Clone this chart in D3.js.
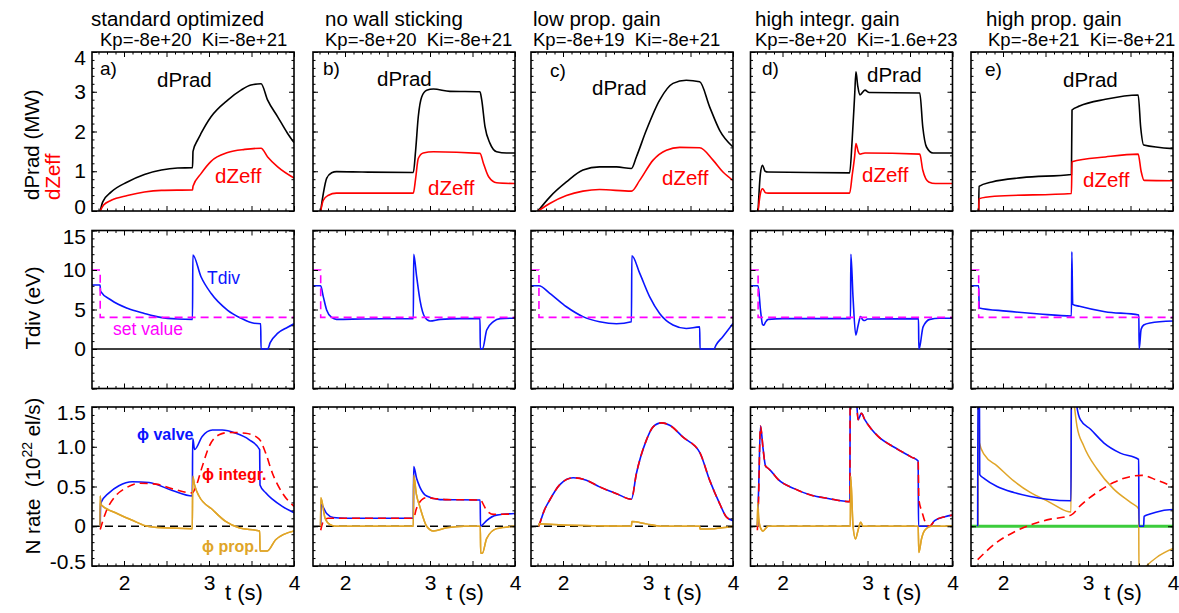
<!DOCTYPE html>
<html><head><meta charset="utf-8">
<script src="https://cdn.jsdelivr.net/npm/d3@7"></script>
<style>
body{margin:0;background:#fff;}
svg text{font-family:"Liberation Sans",Arial,Helvetica,sans-serif;}
</style></head><body>
<svg id="chart" width="1179" height="613"></svg>
<script>
// ---------------- data ----------------
const titles = ["standard optimized","no wall sticking","low prop. gain","high integr. gain","high prop. gain"];
const gainLabels = ["Kp=-8e+20  Ki=-8e+21","Kp=-8e+20  Ki=-8e+21","Kp=-8e+19  Ki=-8e+21","Kp=-8e+20  Ki=-1.6e+23","Kp=-8e+21  Ki=-8e+21"];
const panelLetters = ["a)","b)","c)","d)","e)"];
const xTicksMajor = [2,2.5,3,3.5,4];
const xTickLabels = [2,3,4];
const yTicksPrad = [0,1,2,3,4];
const yTicksTdiv = [-5,0,5,10,15];
const yLabelsTdiv = [0,5,10,15];
const yTicksRate = [-0.5,0,0.5,1.0,1.5];

// row 1: dPrad (MW) and dZeff, [t (s), value]
const pradA = [[1.72,0],[1.75,0.23],[1.85,0.48],[2.04,0.73],[2.24,0.92],[2.44,1.03],[2.63,1.08],[2.806,1.09],[2.812,1.5],[2.87,1.8],[2.906,1.95],[3.024,2.37],[3.22,2.79],[3.376,3.04],[3.494,3.17],[3.612,3.2],[3.69,2.79],[3.808,2.37],[3.925,1.95],[4.0,1.72]];
const zeffA = [[1.72,0],[1.76,0.15],[1.85,0.27],[2.04,0.39],[2.24,0.48],[2.44,0.52],[2.806,0.53],[2.812,0.62],[2.906,0.94],[3.024,1.25],[3.22,1.47],[3.42,1.55],[3.612,1.58],[3.69,1.36],[3.808,1.11],[4.0,0.83]];
const pradB = [[1.714,0],[1.745,0.44],[1.784,0.82],[1.843,0.96],[1.9,0.99],[2.2,0.98],[2.804,0.97],[2.83,1.5],[2.862,2.37],[2.902,2.87],[2.961,3.04],[3.04,3.07],[3.235,3.01],[3.588,3.0],[3.608,2.8],[3.647,2.12],[3.706,1.7],[3.784,1.49],[3.9,1.46],[4.0,1.46]];
const zeffB = [[1.714,0],[1.745,0.27],[1.8,0.39],[1.9,0.45],[2.804,0.45],[2.83,0.8],[2.862,1.32],[2.92,1.46],[3.04,1.49],[3.588,1.45],[3.63,1.19],[3.69,0.86],[3.784,0.71],[4.0,0.69]];
const pradC = [[1.706,0],[1.844,0.35],[2.04,0.73],[2.235,1.03],[2.43,1.11],[2.63,1.11],[2.805,1.07],[2.863,1.36],[2.98,2.03],[3.137,2.79],[3.294,3.21],[3.45,3.29],[3.608,3.25],[3.725,2.62],[3.843,2.03],[4.0,1.61]];
const zeffC = [[1.706,0],[1.844,0.19],[2.04,0.39],[2.235,0.5],[2.43,0.54],[2.805,0.5],[2.902,0.77],[3.06,1.28],[3.216,1.53],[3.373,1.6],[3.608,1.59],[3.765,1.28],[3.882,0.98],[4.0,0.77]];
const pradD = [[1.713,0],[1.74,0.94],[1.765,1.15],[1.795,1.0],[1.83,0.98],[2.79,0.96],[2.82,1.8],[2.85,2.96],[2.864,3.5],[2.885,3.15],[2.91,2.92],[2.97,3.04],[3.02,2.98],[3.615,2.97],[3.65,2.12],[3.694,1.61],[3.77,1.46],[4.0,1.46]];
const zeffD = [[1.713,0],[1.74,0.44],[1.765,0.56],[1.8,0.46],[1.83,0.45],[2.79,0.45],[2.82,0.9],[2.85,1.4],[2.864,1.7],[2.89,1.5],[2.91,1.43],[2.97,1.46],[3.615,1.43],[3.65,1.03],[3.72,0.73],[3.8,0.69],[4.0,0.69]];
const pradE = [[1.714,0],[1.718,0.62],[1.87,0.73],[2.224,0.84],[2.805,0.92],[2.812,2.54],[2.9,2.64],[3.205,2.81],[3.59,2.92],[3.62,2.1],[3.655,1.66],[4.0,1.57]];
const zeffE = [[1.714,0],[1.718,0.31],[1.9,0.37],[2.805,0.44],[2.812,1.24],[3.205,1.36],[3.59,1.43],[3.625,1.0],[3.66,0.77],[4.0,0.76]];

// row 2: Tdiv (eV)
const tdivA = [[1.62,8.1],[1.718,8.1],[1.725,7.3],[1.847,6.2],[2.04,5.15],[2.24,4.5],[2.43,4.0],[2.63,3.8],[2.806,3.75],[2.81,11.9],[2.906,9.15],[3.024,7.05],[3.22,4.9],[3.376,3.9],[3.53,3.25],[3.608,3.2],[3.612,0],[3.69,0],[3.72,0.8],[3.81,2.0],[3.925,2.75],[4.0,3.2]];
const tdivB = [[1.62,8.0],[1.714,8.0],[1.745,6.6],[1.784,4.94],[1.843,4.0],[1.9,3.75],[2.2,3.8],[2.804,3.85],[2.808,12.0],[2.843,9.15],[2.882,6.2],[2.941,4.0],[3.0,3.54],[3.12,3.75],[3.35,3.85],[3.588,3.85],[3.592,0],[3.62,0.05],[3.667,2.4],[3.745,3.46],[3.824,3.85],[4.0,3.9]];
const tdivC = [[1.62,8],[1.717,8],[1.844,7.05],[2.04,5.35],[2.235,4.1],[2.43,3.46],[2.63,3.2],[2.805,3.46],[2.81,11.8],[2.902,9.6],[3.02,6.6],[3.137,4.5],[3.294,3.04],[3.45,2.6],[3.608,2.8],[3.612,0],[3.776,0],[3.8,0.5],[3.88,1.56],[4.0,3.25]];
const tdivD = [[1.62,8],[1.713,8],[1.741,4.94],[1.765,3.1],[1.78,3.0],[1.8,3.4],[1.831,3.75],[2.0,3.85],[2.8,3.85],[2.804,12.0],[2.83,6.5],[2.862,1.77],[2.89,3.0],[2.918,4.1],[2.945,3.7],[2.968,3.6],[3.0,3.8],[3.6,3.85],[3.604,0],[3.615,0.3],[3.654,2.8],[3.733,3.75],[3.85,3.9],[4.0,3.9]];
const tdivE = [[1.62,8],[1.714,8],[1.72,5.2],[2.04,4.8],[2.43,4.43],[2.805,4.18],[2.81,12.3],[2.82,5.65],[2.9,5.4],[3.2,4.72],[3.598,4.3],[3.602,0],[3.625,2.5],[3.655,3.04],[3.73,3.3],[4.0,3.54]];
const setHigh = 10, setLow = 4;
const setStepT = [1.72,1.714,1.717,1.713,1.714];

// row 3: N rate (1e22 el/s): valve, integral part, proportional part
const valveA = [[1.72,0],[1.726,0.29],[1.824,0.42],[1.94,0.51],[2.098,0.56],[2.294,0.55],[2.568,0.45],[2.804,0.38],[2.808,1.1],[2.814,1.08],[2.83,0.965],[2.92,1.13],[3.04,1.21],[3.156,1.21],[3.314,1.17],[3.47,1.09],[3.596,0.965],[3.6,0.52],[3.667,0.42],[3.745,0.34],[3.862,0.25],[4.0,0.17]];
const integrA = [[1.72,-0.04],[1.784,0.17],[1.9,0.38],[2.02,0.48],[2.176,0.54],[2.373,0.53],[2.57,0.47],[2.804,0.42],[2.843,0.49],[2.92,0.75],[3.0,1.0],[3.118,1.15],[3.235,1.18],[3.43,1.17],[3.588,1.1],[3.667,0.92],[3.745,0.67],[3.862,0.42],[4.0,0.25]];
const propA = [[1.718,0],[1.72,0.38],[1.73,0.27],[1.9,0.17],[2.098,0.075],[2.255,0.005],[2.45,-0.02],[2.804,-0.03],[2.808,0.63],[2.83,0.52],[2.882,0.38],[3.04,0.21],[3.196,0.06],[3.353,-0.02],[3.596,-0.06],[3.6,-0.31],[3.686,-0.31],[3.784,-0.17],[4.0,-0.06]];
const valveB = [[1.714,0],[1.72,0.27],[1.784,0.16],[1.863,0.11],[2.0,0.1],[2.804,0.1],[2.808,0.75],[2.843,0.6],[2.882,0.49],[2.961,0.38],[3.118,0.335],[3.59,0.33],[3.594,0],[3.62,0.02],[3.666,0.07],[3.784,0.14],[4.0,0.16]];
const integrB = [[1.714,-0.05],[1.745,0.06],[1.8,0.1],[2.804,0.1],[2.84,0.22],[2.9,0.33],[2.96,0.36],[3.05,0.35],[3.2,0.335],[3.594,0.33],[3.63,0.27],[3.666,0.2],[3.75,0.15],[4.0,0.155]];
const propB = [[1.712,0],[1.716,0.36],[1.766,0.1],[1.825,0.02],[1.9,0],[2.804,0],[2.808,0.64],[2.84,0.4],[2.882,0.24],[2.961,0.0],[3.04,-0.06],[3.196,-0.02],[3.4,0],[3.592,0],[3.596,-0.34],[3.616,-0.34],[3.666,-0.155],[3.784,-0.03],[4.0,0]];
const valveC = [[1.717,0],[1.78,0.2],[1.844,0.33],[1.96,0.52],[2.118,0.61],[2.275,0.58],[2.43,0.495],[2.63,0.41],[2.805,0.34],[2.863,0.66],[2.98,1.08],[3.06,1.25],[3.157,1.3],[3.255,1.27],[3.412,1.12],[3.608,0.93],[3.725,0.58],[3.843,0.285],[3.92,0.12],[4.0,0.07]];
const integrC = [[1.717,0],[1.78,0.2],[1.844,0.33],[1.96,0.52],[2.118,0.61],[2.275,0.58],[2.43,0.495],[2.63,0.41],[2.805,0.34],[2.863,0.66],[2.98,1.08],[3.06,1.25],[3.157,1.3],[3.255,1.27],[3.412,1.12],[3.608,0.93],[3.725,0.58],[3.843,0.285],[3.92,0.12],[4.0,0.07]];
const propC = [[1.715,0],[1.717,0.03],[2.0,0.015],[2.4,0.005],[2.805,0],[2.81,0.06],[2.98,0.03],[3.15,0],[3.608,0],[3.612,-0.035],[3.78,-0.03],[4.0,0]];
const valveD = [[1.706,0],[1.72,0.5],[1.741,1.26],[1.772,0.97],[1.8,0.76],[1.83,0.73],[1.86,0.7],[1.948,0.59],[2.145,0.47],[2.34,0.39],[2.536,0.35],[2.792,0.31],[2.797,1.8],[2.86,1.75],[2.889,1.34],[2.929,1.42],[2.968,1.34],[3.047,1.22],[3.125,1.13],[3.32,0.99],[3.517,0.87],[3.596,0.82],[3.6,0],[3.733,0],[3.79,0.07],[3.91,0.12],[4.0,0.14]];
const integrD = [[1.704,-0.05],[1.715,0.2],[1.741,1.26],[1.772,0.97],[1.8,0.76],[1.83,0.73],[1.86,0.7],[1.948,0.59],[2.145,0.47],[2.34,0.39],[2.536,0.35],[2.792,0.31],[2.797,1.8],[2.86,1.75],[2.889,1.34],[2.929,1.42],[2.968,1.34],[3.047,1.22],[3.125,1.13],[3.32,0.99],[3.517,0.87],[3.596,0.82],[3.604,0.34],[3.643,0.175],[3.68,0.05],[3.73,0.0],[3.79,0.07],[3.91,0.12],[4.0,0.14]];
const propD = [[1.704,0],[1.708,0.3],[1.72,0.1],[1.741,-0.02],[1.772,-0.06],[1.8,-0.03],[1.83,0],[2.798,0],[2.802,0.63],[2.83,0.0],[2.859,-0.16],[2.889,-0.05],[2.92,0.05],[2.948,0],[3.596,0],[3.604,-0.33],[3.635,-0.16],[3.674,-0.05],[3.753,0],[4.0,0]];
const valveE = [[1.702,0],[1.705,1.8],[1.722,1.8],[1.726,0.65],[1.78,0.6],[1.93,0.5],[2.126,0.425],[2.32,0.375],[2.518,0.34],[2.8,0.32],[2.804,1.8],[2.84,1.8],[2.87,1.5],[2.91,1.34],[3.03,1.22],[3.185,1.05],[3.38,0.92],[3.596,0.84],[3.6,0],[3.655,0],[3.66,0.125],[3.72,0.15],[3.87,0.195],[4.0,0.21]];
const integrE = [[1.702,-0.42],[1.93,-0.2],[2.126,-0.075],[2.32,0.016],[2.518,0.08],[2.8,0.14],[2.91,0.26],[3.106,0.425],[3.3,0.55],[3.5,0.625],[3.635,0.64],[3.81,0.58],[4.0,0.5]];
const propE = [[1.706,0],[1.709,1.8],[1.718,1.8],[1.722,1.05],[1.78,0.9],[1.93,0.76],[2.126,0.57],[2.32,0.425],[2.518,0.32],[2.8,0.18],[2.806,1.8],[2.83,1.6],[2.87,1.26],[2.95,1.01],[3.106,0.72],[3.3,0.47],[3.5,0.3],[3.596,0.22],[3.6,-0.6],[3.687,-0.5],[3.81,-0.39],[4.0,-0.28]];

// ---------------- layout ----------------
const colLeft = [92, 313, 531, 750.5, 971];
const panelW = 202;
const rowTop = [52, 230.5, 407];
const rowH = [159, 158, 159];
const xMin = 4 - panelW / 85, xMax = 4;
const titleX = [91, 325, 533, 755, 986];
const gainX = [100, 325, 533, 755, 988];
const letterPos = [[100,75],[323,75],[550,77],[762,75],[985,76]];
const pradPos = [[157,87],[377,86],[592,95],[867,82],[1063,87]];
const zeffPos = [[215,183],[428,195],[662,185],[862,182],[1083,187]];

const C = {black:"#000", red:"#ff0000", blue:"#0a14ff", magenta:"#ff00ff", orange:"#e0a528", green:"#3ccc3c"};

const panels = [
  {prad:pradA, zeff:zeffA, tdiv:tdivA, valve:valveA, integr:integrA, prop:propA},
  {prad:pradB, zeff:zeffB, tdiv:tdivB, valve:valveB, integr:integrB, prop:propB},
  {prad:pradC, zeff:zeffC, tdiv:tdivC, valve:valveC, integr:integrC, prop:propC},
  {prad:pradD, zeff:zeffD, tdiv:tdivD, valve:valveD, integr:integrD, prop:propD},
  {prad:pradE, zeff:zeffE, tdiv:tdivE, valve:valveE, integr:integrE, prop:propE}
];

const svg = d3.select("#chart");
const defs = svg.append("defs");

function range(a, b, s) { const out = []; for (let v = a; v <= b + 1e-9; v += s) out.push(+v.toFixed(4)); return out; }
const xMinor = range(1.7, 3.9, 0.1).filter(v => Math.abs(v*2 - Math.round(v*2)) > 1e-6);

function styleAxis(g) {
  g.select(".domain").remove();
  g.selectAll(".tick line").attr("stroke", "#000").attr("stroke-width", 1);
  g.selectAll(".tick text").attr("fill", "#000").style("font-size", "21px")
    .style("font-family", '"Liberation Sans",Arial,Helvetica,sans-serif');
  g.attr("font-size", null).attr("font-family", null);
}

function drawFrame(c, r, x, y, yMajor, yMinor, yFmt, showX) {
  const top = rowTop[r], bot = top + rowH[r], left = colLeft[c], right = left + panelW;
  const g = svg.append("g");
  g.append("g").attr("transform", `translate(0,${bot})`)
    .call(d3.axisBottom(x).tickValues(xMinor).tickSize(-2.5).tickFormat("")).call(styleAxis);
  g.append("g").attr("transform", `translate(0,${top})`)
    .call(d3.axisTop(x).tickValues(xMinor).tickSize(-2.5).tickFormat("")).call(styleAxis);
  g.append("g").attr("transform", `translate(0,${bot})`)
    .call(d3.axisBottom(x).tickValues(xTicksMajor).tickSize(-5).tickPadding(9)
      .tickFormat(d => (showX && xTickLabels.includes(d)) ? String(d) : "")).call(styleAxis);
  g.append("g").attr("transform", `translate(0,${top})`)
    .call(d3.axisTop(x).tickValues(xTicksMajor).tickSize(-5).tickFormat("")).call(styleAxis);
  g.append("g").attr("transform", `translate(${left},0)`)
    .call(d3.axisLeft(y).tickValues(yMinor).tickSize(-2.5).tickFormat("")).call(styleAxis);
  g.append("g").attr("transform", `translate(${right},0)`)
    .call(d3.axisRight(y).tickValues(yMinor).tickSize(-2.5).tickFormat("")).call(styleAxis);
  const ya = g.append("g").attr("transform", `translate(${left},0)`)
    .call(d3.axisLeft(y).tickValues(yMajor).tickSize(-5).tickPadding(6).tickFormat(c === 0 ? yFmt : () => "")).call(styleAxis);
  ya.selectAll(".tick text").attr("y", d => {
    const py = y(d);
    if (py - top < 4) return 6;
    if (bot - py < 4) return -4;
    return 0;
  });
  g.append("g").attr("transform", `translate(${right},0)`)
    .call(d3.axisRight(y).tickValues(yMajor).tickSize(-5).tickFormat("")).call(styleAxis);
  g.append("rect").attr("x", left).attr("y", top).attr("width", panelW).attr("height", rowH[r])
    .attr("fill", "none").attr("stroke", "#000").attr("stroke-width", 1.6);
}

function clipFor(c, r) {
  const id = `clip-${c}-${r}`;
  defs.append("clipPath").attr("id", id).append("rect")
    .attr("x", colLeft[c]).attr("y", rowTop[r]).attr("width", panelW).attr("height", rowH[r]);
  return `url(#${id})`;
}

function addText(txt, x, y, color, size, opts = {}) {
  const t = svg.append("text").attr("x", x).attr("y", y).attr("fill", color)
    .style("font-size", size + "px").style("white-space", "pre").text(txt);
  if (opts.bold) t.style("font-weight", "bold");
  if (opts.anchor) t.attr("text-anchor", opts.anchor);
  return t;
}

panels.forEach((p, c) => {
  const x = d3.scaleLinear().domain([xMin, xMax]).range([colLeft[c], colLeft[c] + panelW]);
  const mk = (y, curve) => d3.line().x(d => x(d[0])).y(d => y(d[1])).curve(curve || d3.curveMonotoneX);

  addText(titles[c], titleX[c], 26, "#000", 20.5);
  addText(gainLabels[c], gainX[c], 46, "#000", 18.5);

  // ---- row 1 ----
  const y1 = d3.scaleLinear().domain([0, 4]).range([rowTop[0] + rowH[0], rowTop[0]]);
  const g1 = svg.append("g").attr("clip-path", clipFor(c, 0));
  g1.append("path").datum(p.prad).attr("d", mk(y1)).attr("fill", "none").attr("stroke", C.black).attr("stroke-width", 1.6);
  g1.append("path").datum(p.zeff).attr("d", mk(y1)).attr("fill", "none").attr("stroke", C.red).attr("stroke-width", 1.6);
  drawFrame(c, 0, x, y1, yTicksPrad, range(0, 4, 0.2), d => String(d), false);
  addText(panelLetters[c], letterPos[c][0], letterPos[c][1], "#000", 19);
  addText("dPrad", pradPos[c][0], pradPos[c][1], "#000", 20.5);
  addText("dZeff", zeffPos[c][0], zeffPos[c][1], C.red, 20.5);

  // ---- row 2 ----
  const y2 = d3.scaleLinear().domain([-5, 15]).range([rowTop[1] + rowH[1], rowTop[1]]);
  const g2 = svg.append("g").attr("clip-path", clipFor(c, 1));
  g2.append("path").datum([[xMin, 0], [xMax, 0]]).attr("d", mk(y2, d3.curveLinear)).attr("stroke", "#000").attr("stroke-width", 1.6);
  g2.append("path").datum(p.tdiv).attr("d", mk(y2)).attr("fill", "none").attr("stroke", C.blue).attr("stroke-width", 1.6);
  const setSeries = [[xMin, setHigh], [setStepT[c], setHigh], [setStepT[c], setLow], [xMax, setLow]];
  g2.append("path").datum(setSeries).attr("d", mk(y2, d3.curveLinear)).attr("fill", "none")
    .attr("stroke", C.magenta).attr("stroke-width", 1.6).attr("stroke-dasharray", "8,5");
  drawFrame(c, 1, x, y2, yTicksTdiv, range(-5, 15, 1), d => yLabelsTdiv.includes(d) ? String(d) : "", false);

  // ---- row 3 ----
  const y3 = d3.scaleLinear().domain([-0.5, 1.5]).range([rowTop[2] + rowH[2], rowTop[2]]);
  const g3 = svg.append("g").attr("clip-path", clipFor(c, 2));
  g3.append("path").datum([[xMin, 0], [xMax, 0]]).attr("d", mk(y3, d3.curveLinear)).attr("stroke", "#000")
    .attr("stroke-width", 1.5).attr("stroke-dasharray", "8,5");
  if (c === 4) {
    g3.append("path").datum([[xMin, 0], [xMax, 0]]).attr("d", mk(y3, d3.curveLinear)).attr("stroke", C.green).attr("stroke-width", 3);
  }
  g3.append("path").datum(p.prop).attr("d", mk(y3)).attr("fill", "none").attr("stroke", C.orange).attr("stroke-width", 1.5);
  g3.append("path").datum(p.valve).attr("d", mk(y3)).attr("fill", "none").attr("stroke", C.blue).attr("stroke-width", 1.6);
  g3.append("path").datum(p.integr).attr("d", mk(y3)).attr("fill", "none").attr("stroke", C.red).attr("stroke-width", 1.6).attr("stroke-dasharray", "8,5");
  if (c !== 4) {
    // proportional part drawn over the zero line in the other panels
    g3.append("path").datum(p.prop).attr("d", mk(y3)).attr("fill", "none").attr("stroke", C.orange).attr("stroke-width", 1.5);
  }
  drawFrame(c, 2, x, y3, yTicksRate, range(-0.5, 1.5, 0.1), d => d === 0 ? "0" : d.toFixed(1), true);
  addText("t (s)", colLeft[c] + 152, 600, "#000", 22, {anchor: "middle"});
});

addText("Tdiv", 207, 284, C.blue, 17.5);
addText("set value", 113, 335, C.magenta, 17.5);
addText("\u03D5 valve", 137, 440, C.blue, 16, {bold: true});
addText("\u03D5 integr.", 202, 480, C.red, 16, {bold: true});
addText("\u03D5 prop.", 202, 552, C.orange, 16, {bold: true});

function vText(x, y, anchor) {
  return svg.append("text").attr("transform", `translate(${x},${y}) rotate(-90)`).attr("text-anchor", anchor)
    .style("font-size", "20.5px").style("white-space", "pre");
}
vText(39, 200, "start").attr("fill", "#000").text("dPrad (MW)");
vText(60, 200, "start").attr("fill", C.red).text("dZeff");
vText(40, 308, "middle").attr("fill", "#000").text("Tdiv (eV)");
const nr = vText(40, 476, "middle").attr("fill", "#000");
nr.append("tspan").text("N rate  (10");
nr.append("tspan").attr("dy", -8).style("font-size", "14px").text("22");
nr.append("tspan").attr("dy", 8).text(" el/s)");
</script></body></html>
